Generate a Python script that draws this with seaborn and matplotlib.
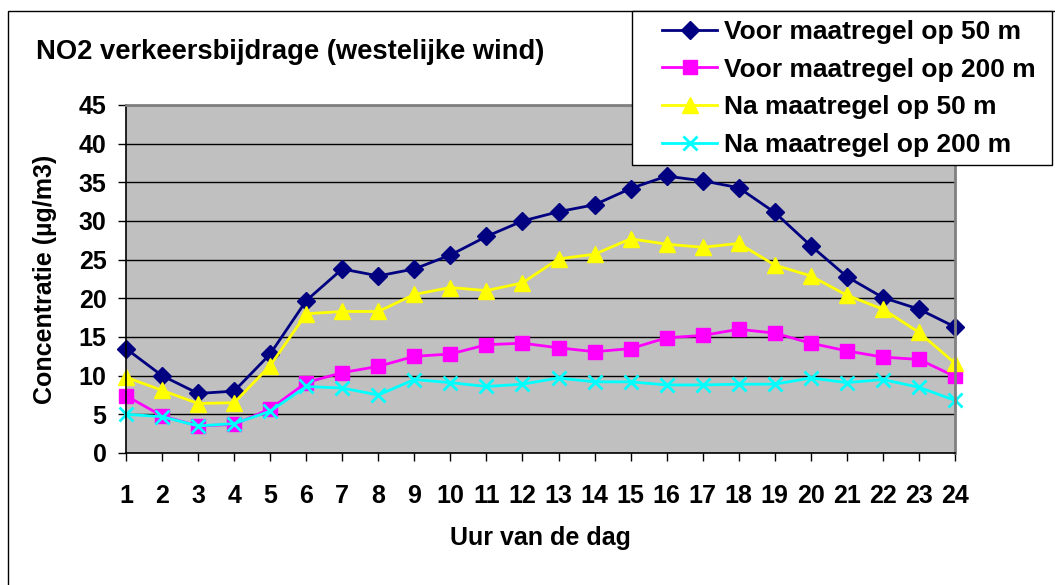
import pandas as pd
import seaborn as sns
import matplotlib.pyplot as plt
from matplotlib.patches import Rectangle

# data
hours = list(range(1, 25))
voor_50 = [13.5, 10.0, 7.7, 8.0, 12.8, 19.7, 23.8, 22.9, 23.8, 25.6, 28.0, 30.0,
           31.2, 32.1, 34.2, 35.8, 35.2, 34.3, 31.1, 26.8, 22.8, 20.1, 18.6, 16.3]
voor_200 = [7.4, 4.8, 3.5, 3.7, 5.7, 9.1, 10.4, 11.2, 12.5, 12.8, 14.0, 14.2,
            13.6, 13.1, 13.5, 14.9, 15.2, 16.0, 15.5, 14.2, 13.2, 12.4, 12.1, 9.9]
na_50 = [9.8, 8.1, 6.4, 6.5, 11.3, 18.0, 18.3, 18.3, 20.5, 21.4, 21.0, 22.0,
         25.1, 25.7, 27.7, 27.0, 26.6, 27.1, 24.3, 22.9, 20.4, 18.6, 15.6, 11.6]
na_200 = [5.0, 4.7, 3.5, 3.8, 5.4, 8.6, 8.4, 7.5, 9.5, 9.1, 8.6, 8.9,
          9.7, 9.2, 9.2, 8.8, 8.8, 8.9, 8.9, 9.7, 9.1, 9.5, 8.5, 6.8]
series_names = ["Voor maatregel op 50 m", "Voor maatregel op 200 m",
                "Na maatregel op 50 m", "Na maatregel op 200 m"]

plt.rcParams['font.family'] = ['Liberation Sans', 'DejaVu Sans']
plt.rcParams['font.weight'] = 'bold'

W, H = 1055, 585
fig = plt.figure(figsize=(W / 100, H / 100), dpi=100)
ax = fig.add_axes([126 / W, 1 - 453 / H, (955 - 126) / W, (453 - 105) / H])

styles = [
    dict(color='#000080', marker='D', markersize=9.5),
    dict(color='#FF00FF', marker='s', markersize=10),
    dict(color='#FFFF00', marker='^', markersize=11),
    dict(color='#00FFFF', marker='x', markersize=10, markeredgewidth=2),
]
for name, vals, st in zip(series_names, [voor_50, voor_200, na_50, na_200], styles):
    df = pd.DataFrame({'uur': hours, 'conc': vals})
    sns.lineplot(data=df, x='uur', y='conc', ax=ax, label=name, linewidth=2,
                 color=st['color'], marker=st['marker'], markersize=st['markersize'],
                 mec=st['color'], mfc=st['color'],
                 mew=st.get('markeredgewidth', 1), clip_on=False)

ax.set_facecolor('#C0C0C0')
ax.set_xlim(1, 24)
ax.set_ylim(0, 45)
ax.set_xticks(hours)
ax.set_yticks(range(0, 50, 5))
ax.yaxis.grid(True, color='black', linewidth=1)
ax.set_axisbelow(True)
ax.set_xlabel('')
ax.set_ylabel('')
for side in ['top', 'right']:
    ax.spines[side].set_color('#808080')
    ax.spines[side].set_linewidth(2)
for side in ['left', 'bottom']:
    ax.spines[side].set_color('black')
    ax.spines[side].set_linewidth(1.2)
ax.tick_params(axis='x', direction='out', length=6, width=1, pad=16, labelsize=18)
ax.tick_params(axis='y', direction='out', length=6, width=1, pad=8, labelsize=18)
for lbl in ax.get_xticklabels() + ax.get_yticklabels():
    lbl.set_fontweight('bold')

handles, labels = ax.get_legend_handles_labels()
ax.get_legend().remove()

# outer chart frame and legend box
fig.patches.append(Rectangle((8 / W, -0.1), 1.2, 1 - 11 / H + 0.1, transform=fig.transFigure,
                             fill=False, edgecolor='black', linewidth=1))
fig.patches.append(Rectangle((632 / W, 1 - 165 / H), (1052 - 632) / W, (165 - 11) / H,
                             transform=fig.transFigure, facecolor='white',
                             edgecolor='black', linewidth=1, zorder=3))
fig.legend(handles, labels, loc='upper left', bbox_to_anchor=(662 / W, 1 - 20 / H),
           frameon=False, borderpad=0, borderaxespad=0, handlelength=2.1,
           handletextpad=0.25, labelspacing=0.52, prop={'size': 19, 'weight': 'bold'})

fig.text(36 / W, 1 - 52 / H, 'NO2 verkeersbijdrage (westelijke wind)', fontsize=19.7,
         fontweight='bold', ha='left', va='center')
fig.text(45 / W, 1 - 279 / H, 'Concentratie (µg/m3)', fontsize=18, fontweight='bold',
         rotation=90, ha='center', va='center')
fig.text(540 / W, 1 - 538 / H, 'Uur van de dag', fontsize=18, fontweight='bold',
         ha='center', va='center')

fig.savefig('out.png', dpi=100)
